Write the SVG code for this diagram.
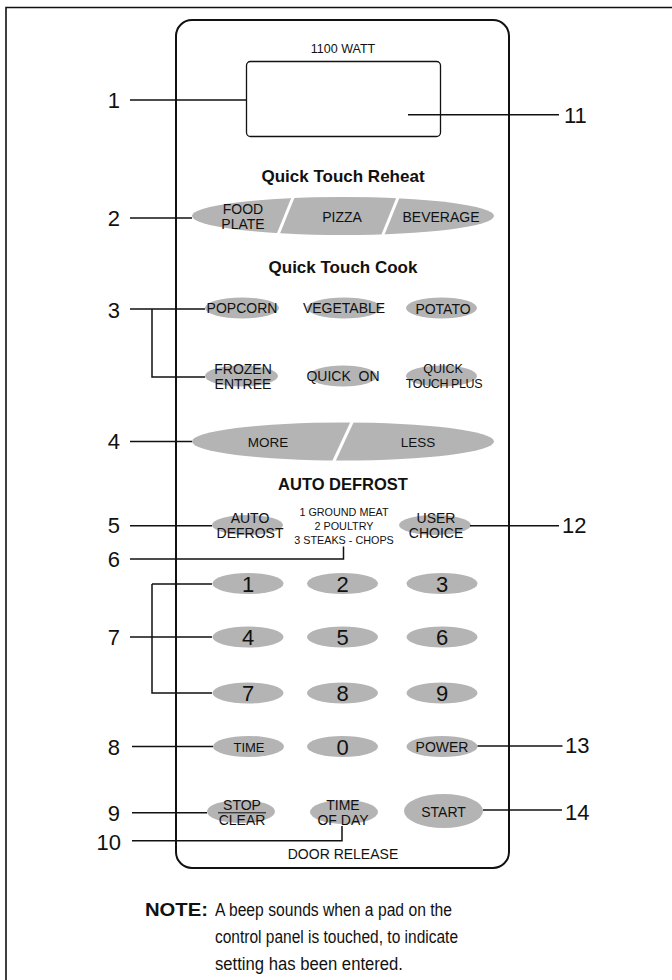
<svg xmlns="http://www.w3.org/2000/svg" width="672" height="980" viewBox="0 0 672 980">
<style>
text{font-family:"Liberation Sans",Arial,sans-serif;fill:#111;}
.lr{font-size:22px;text-anchor:start;}
.ll{font-size:22px;text-anchor:end;}
.btn{font-size:14px;text-anchor:middle;}
.key{font-size:22px;text-anchor:middle;}
.hd{font-size:17px;font-weight:bold;text-anchor:middle;}
.nt{font-size:17.5px;}
.pad{fill:#b4b4b4;}
.ld{stroke:#111;stroke-width:1.5;fill:none;}
.cut{stroke:#fff;stroke-width:3;}
</style>
<rect width="672" height="980" fill="#fff"/>
<g id="frame"><path d="M6 980 V7.5 H672" fill="none" stroke="#111" stroke-width="1.6"/></g>
<g id="panel">
<rect x="176" y="20" width="333" height="848" rx="16" fill="none" stroke="#111" stroke-width="2"/>
<text x="343" y="53" style="font-size:12.5px;text-anchor:middle">1100 WATT</text>
<text x="343" y="859" style="font-size:14px;text-anchor:middle">DOOR RELEASE</text>
</g>
<g id="display"><rect x="246.5" y="61.5" width="194" height="75" rx="4" fill="none" stroke="#111" stroke-width="1.3"/></g>
<g id="reheat">
<text class="hd" x="343" y="182">Quick Touch Reheat</text>
<ellipse class="pad" cx="343" cy="216" rx="151" ry="19"/>
<line class="cut" x1="294" y1="195" x2="277" y2="237"/>
<line class="cut" x1="399" y1="195" x2="382" y2="237"/>
<text class="btn" x="243" y="214">FOOD</text>
<text class="btn" x="243" y="229">PLATE</text>
<text class="btn" x="342" y="222">PIZZA</text>
<text class="btn" x="441" y="222">BEVERAGE</text>
</g>
<g id="cook">
<text class="hd" x="343" y="273">Quick Touch Cook</text>
<ellipse class="pad" cx="242" cy="308" rx="37" ry="10.5"/>
<ellipse class="pad" cx="344" cy="308" rx="37" ry="10.5"/>
<ellipse class="pad" cx="441.5" cy="308" rx="35.5" ry="10.5"/>
<text class="btn" x="242" y="313">POPCORN</text>
<text class="btn" x="344" y="313">VEGETABLE</text>
<text class="btn" x="443" y="314">POTATO</text>
<ellipse class="pad" cx="241.5" cy="376" rx="36.5" ry="10.5"/>
<ellipse class="pad" cx="343" cy="376" rx="34" ry="10.5"/>
<ellipse class="pad" cx="441.5" cy="376" rx="35.5" ry="10.5"/>
<text class="btn" x="243" y="374">FROZEN</text>
<text class="btn" x="243" y="389">ENTREE</text>
<text class="btn" x="343" y="381" style="white-space:pre">QUICK  ON</text>
<text class="btn" x="443" y="373" style="font-size:12.5px">QUICK</text>
<text class="btn" x="444" y="388" style="font-size:12.5px;letter-spacing:-0.4px">TOUCH PLUS</text>
</g>
<g id="moreless">
<ellipse class="pad" cx="343" cy="441.5" rx="151" ry="19"/>
<line class="cut" x1="353" y1="420" x2="333" y2="463"/>
<text class="btn" x="268" y="447" style="font-size:13.5px">MORE</text>
<text class="btn" x="418" y="447" style="font-size:13.5px">LESS</text>
</g>
<g id="defrost">
<text class="hd" x="343" y="490" style="font-size:16.5px">AUTO DEFROST</text>
<ellipse class="pad" cx="247.5" cy="525" rx="35.5" ry="10"/>
<ellipse class="pad" cx="435" cy="525" rx="36" ry="10"/>
<text class="btn" x="250" y="523">AUTO</text>
<text class="btn" x="250" y="538">DEFROST</text>
<text class="btn" x="436" y="523">USER</text>
<text class="btn" x="436" y="538">CHOICE</text>
<text x="344" y="516" style="font-size:10.8px;text-anchor:middle">1 GROUND MEAT</text>
<text x="344" y="530" style="font-size:10.8px;text-anchor:middle">2 POULTRY</text>
<text x="344" y="544" style="font-size:10.8px;text-anchor:middle">3 STEAKS - CHOPS</text>
</g>
<g id="keypad">
<ellipse class="pad" cx="248" cy="583.5" rx="35.5" ry="10.5"/>
<ellipse class="pad" cx="342.5" cy="583.5" rx="35.5" ry="10.5"/>
<ellipse class="pad" cx="442" cy="583.5" rx="35.5" ry="10.5"/>
<ellipse class="pad" cx="248" cy="637" rx="35.5" ry="10.5"/>
<ellipse class="pad" cx="342.5" cy="637" rx="35.5" ry="10.5"/>
<ellipse class="pad" cx="442" cy="637" rx="35.5" ry="10.5"/>
<ellipse class="pad" cx="248" cy="693" rx="35.5" ry="10.5"/>
<ellipse class="pad" cx="342.5" cy="693" rx="35.5" ry="10.5"/>
<ellipse class="pad" cx="442" cy="693" rx="35.5" ry="10.5"/>
<text class="key" x="248" y="592">1</text>
<text class="key" x="342.5" y="592">2</text>
<text class="key" x="442" y="592">3</text>
<text class="key" x="248" y="645">4</text>
<text class="key" x="342.5" y="645">5</text>
<text class="key" x="442" y="645">6</text>
<text class="key" x="248" y="701">7</text>
<text class="key" x="342.5" y="701">8</text>
<text class="key" x="442" y="701">9</text>
<ellipse class="pad" cx="248.5" cy="746.5" rx="35.5" ry="10.5"/>
<ellipse class="pad" cx="342.5" cy="746.5" rx="35.5" ry="10.5"/>
<ellipse class="pad" cx="442" cy="746.5" rx="35.5" ry="10.5"/>
<text class="btn" x="249" y="752" style="font-size:13px">TIME</text>
<text class="key" x="342.5" y="755">0</text>
<text class="btn" x="442" y="752">POWER</text>
</g>
<g id="bottom">
<ellipse class="pad" cx="241" cy="811.5" rx="34" ry="11.5"/>
<ellipse class="pad" cx="344" cy="812" rx="34" ry="12"/>
<ellipse class="pad" cx="443.5" cy="811" rx="39.5" ry="17"/>
<text class="btn" x="242" y="810">STOP</text>
<line x1="218" y1="812.8" x2="266" y2="812.8" stroke="#111" stroke-width="1"/>
<text class="btn" x="242" y="825">CLEAR</text>
<text class="btn" x="343" y="810">TIME</text>
<text class="btn" x="343" y="825">OF DAY</text>
<text class="btn" x="443.5" y="817">START</text>
</g>
<g id="connectors">
<path class="ld" d="M130 100 H246"/>
<path class="ld" d="M408 114.7 H559"/>
<path class="ld" d="M130 218 H192"/>
<path class="ld" d="M130 309 H205 M152 309 V377 H205"/>
<path class="ld" d="M130 441.5 H192"/>
<path class="ld" d="M130 525.7 H212"/>
<path class="ld" d="M470 525.7 H559"/>
<path class="ld" d="M130 559 H343.5 V546.5"/>
<path class="ld" d="M152 584 H212 M152 584 V693 H212 M130 637 H212"/>
<path class="ld" d="M132 746.5 H213"/>
<path class="ld" d="M477.5 746 H562.5"/>
<path class="ld" d="M132 812.7 H207"/>
<path class="ld" d="M483 810 H562"/>
<path class="ld" d="M132 840.7 H342 V826"/>
</g>
<g id="labels">
<text class="ll" x="120" y="108">1</text>
<text class="lr" x="564" y="122.7">11</text>
<text class="ll" x="120" y="225.5">2</text>
<text class="ll" x="120" y="317.5">3</text>
<text class="ll" x="120" y="449">4</text>
<text class="ll" x="120" y="533.3">5</text>
<text class="lr" x="562" y="533.3">12</text>
<text class="ll" x="120" y="566.7">6</text>
<text class="ll" x="120" y="645">7</text>
<text class="ll" x="120" y="755">8</text>
<text class="lr" x="565" y="753.3">13</text>
<text class="ll" x="120" y="821">9</text>
<text class="lr" x="565" y="820">14</text>
<text class="ll" x="121" y="850">10</text>
</g>
<g id="note">
<text x="145" y="916" class="nt" style="font-weight:bold" textLength="63" lengthAdjust="spacingAndGlyphs">NOTE:</text>
<text x="215" y="916" class="nt" textLength="237" lengthAdjust="spacingAndGlyphs">A beep sounds when a pad on the</text>
<text x="215" y="943" class="nt" textLength="243" lengthAdjust="spacingAndGlyphs">control panel is touched, to indicate</text>
<text x="215" y="970" class="nt" textLength="188" lengthAdjust="spacingAndGlyphs">setting has been entered.</text>
</g>
</svg>
